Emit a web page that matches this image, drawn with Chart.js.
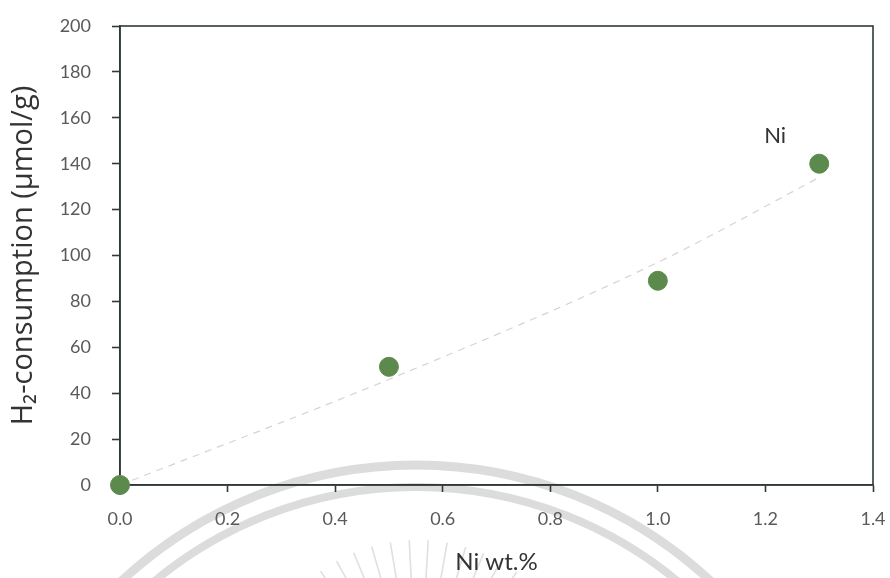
<!DOCTYPE html>
<html>
<head>
<meta charset="utf-8">
<script src="https://cdn.jsdelivr.net/npm/chart.js@4/dist/chart.umd.min.js"></script>
<style>
  html, body { margin: 0; padding: 0; background: #ffffff; }
  #wrap { width: 890px; height: 578px; position: relative; }
</style>
</head>
<body>
<div id="wrap"><canvas id="c"></canvas></div>
<script>
// Measured H2 uptake against nickel loading
const niLoading = [0.0, 0.5, 1.0, 1.3];
const h2Uptake = [0, 51.5, 89, 140];

// Fitted trend curve (dashed)
const trendX = [0.0, 0.5, 1.0, 1.3];
const trendY = [0, 46, 97, 134];

// Axis ticks
const xTicks = [0.0, 0.2, 0.4, 0.6, 0.8, 1.0, 1.2, 1.4];
const yTicks = [0, 20, 40, 60, 80, 100, 120, 140, 160, 180, 200];

// Series annotation
const seriesName = 'Ni';
const seriesLabelAt = { x: 1.218, y: 152 };

const axisColor = '#2f3a35';
const tickFont = { family: 'Lato', size: 18 };

// Faint seal drawn behind the chart
const sealPlugin = {
  id: 'seal',
  beforeDraw(chart) {
    const ctx = chart.ctx;
    ctx.save();
    ctx.strokeStyle = '#dcdcdc';
    ctx.lineWidth = 9;
    const cx = 416, cy = 897;
    ctx.beginPath(); ctx.arc(cx, cy, 432, Math.PI, 2 * Math.PI); ctx.stroke();
    ctx.lineWidth = 8;
    ctx.beginPath(); ctx.arc(cx, cy, 410, Math.PI, 2 * Math.PI); ctx.stroke();
    // sunburst rays
    ctx.strokeStyle = '#e0e0e0';
    ctx.lineWidth = 1.6;
    const rx = 418, ry = 708;
    for (let a = -158; a <= -22; a += 6.5) {
      const t = a * Math.PI / 180;
      const r1 = 168 - (Math.abs(a + 90) > 40 ? 8 : 0);
      ctx.beginPath();
      ctx.moveTo(rx + Math.cos(t) * 95, ry + Math.sin(t) * 95);
      ctx.lineTo(rx + Math.cos(t) * r1, ry + Math.sin(t) * r1);
      ctx.stroke();
    }
    ctx.restore();
  }
};

// Plot frame on all four sides
const framePlugin = {
  id: 'frame',
  beforeDatasetsDraw(chart) {
    const { ctx, chartArea: a } = chart;
    ctx.save();
    ctx.strokeStyle = axisColor;
    ctx.lineWidth = 1.6;
    ctx.strokeRect(a.left, a.top, a.right - a.left, a.bottom - a.top);
    ctx.restore();
  }
};

// Series name written beside the last point
const seriesLabelPlugin = {
  id: 'seriesLabel',
  afterDatasetsDraw(chart) {
    const { ctx, scales } = chart;
    ctx.save();
    ctx.font = '22px Lato';
    ctx.fillStyle = '#333333';
    ctx.textAlign = 'center';
    ctx.textBaseline = 'middle';
    ctx.fillText(seriesName, scales.x.getPixelForValue(seriesLabelAt.x), scales.y.getPixelForValue(seriesLabelAt.y));
    ctx.restore();
  }
};

new Chart(document.getElementById('c'), {
  type: 'scatter',
  data: {
    datasets: [
      {
        label: 'trend',
        type: 'line',
        data: trendX.map((x, i) => ({ x, y: trendY[i] })),
        borderColor: '#d4d4d4',
        borderWidth: 1.2,
        borderDash: [7, 6],
        pointRadius: 0,
        fill: false,
        cubicInterpolationMode: 'monotone',
        clip: false,
        order: 2
      },
      {
        label: seriesName,
        data: niLoading.map((x, i) => ({ x, y: h2Uptake[i] })),
        backgroundColor: '#5b8a4c',
        borderColor: '#5b8a4c',
        borderWidth: 1,
        pointRadius: 9.5,
        pointHoverRadius: 9.5,
        clip: false,
        order: 1
      }
    ]
  },
  options: {
    responsive: true,
    maintainAspectRatio: false,
    animation: false,
    events: [],
    layout: { padding: { top: 26, right: 17, left: 0, bottom: 0 } },
    plugins: {
      legend: { display: false },
      tooltip: { enabled: false }
    },
    scales: {
      x: {
        type: 'linear',
        min: 0, max: 1.4,
        afterBuildTicks(s) { s.ticks = xTicks.map(v => ({ value: v })); },
        afterFit(s) { s.height = 93; s.paddingLeft = 0; s.paddingRight = 0; },
        grid: { drawOnChartArea: false, drawTicks: true, tickLength: 7, tickWidth: 1.6, color: axisColor },
        border: { display: true, color: axisColor, width: 1.6 },
        ticks: {
          padding: 16,
          color: '#5a5a5a',
          font: tickFont,
          maxRotation: 0,
          callback: v => Number(v).toFixed(1)
        },
        title: {
          display: true,
          text: 'Ni wt.%',
          color: '#333333',
          font: { family: 'Lato', size: 24 },
          padding: { top: 0, bottom: 1 }
        }
      },
      y: {
        type: 'linear',
        min: 0, max: 200,
        afterBuildTicks(s) { s.ticks = yTicks.map(v => ({ value: v })); },
        afterFit(s) { s.width = 120; s.paddingTop = 0; s.paddingBottom = 0; },
        grid: { drawOnChartArea: false, drawTicks: true, tickLength: 8, tickWidth: 1.6, color: axisColor },
        border: { display: true, color: axisColor, width: 1.6 },
        ticks: {
          padding: 21,
          color: '#5a5a5a',
          font: tickFont
        },
        title: {
          display: true,
          text: 'H\u2082-consumption (\u03bcmol/g)',
          color: '#333333',
          font: { family: 'Open Sans', size: 29 },
          padding: { top: 6, bottom: 0 }
        }
      }
    }
  },
  plugins: [sealPlugin, framePlugin, seriesLabelPlugin]
});
</script>
</body>
</html>
